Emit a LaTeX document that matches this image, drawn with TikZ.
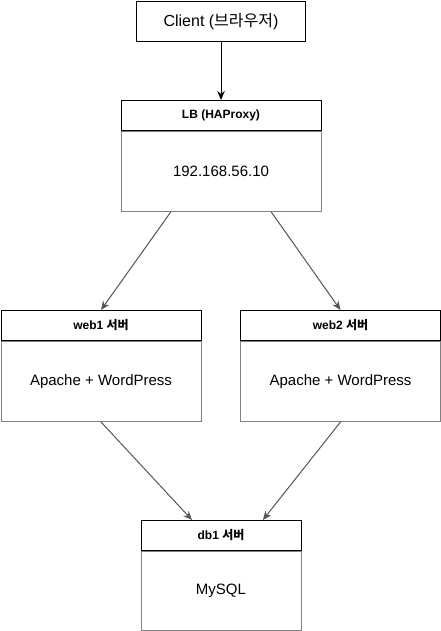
\documentclass[tikz,border=0pt]{standalone}
\usepackage{fontspec}
\setmainfont{Liberation Sans}
\newfontfamily\krfont{Noto Sans CJK KR}
\usetikzlibrary{arrows.meta, positioning, calc}
\definecolor{boxgray}{HTML}{808080}
\definecolor{linkgray}{HTML}{555555}

\tikzset{
  plainbox/.style={draw=black, line width=1pt, minimum width=169pt, minimum height=40pt, inner sep=0pt, anchor=north west, font=\fontsize{16}{16}\selectfont},
  hdrbox/.style={draw=black, line width=1pt, minimum width=200pt, minimum height=30pt, inner sep=0pt, anchor=north west, font=\fontsize{12}{12}\selectfont\bfseries},
  bodybox/.style={draw=boxgray, line width=1pt, minimum width=200pt, minimum height=80pt, inner sep=0pt, anchor=north, font=\fontsize{15}{15}\selectfont},
  link/.style={draw=linkgray, line width=1pt, -{Stealth[length=9pt, width=7.5pt]}}
}

\begin{document}
\begin{tikzpicture}[x=1pt, y=-1pt]
  \useasboundingbox (0,0) rectangle (441,631);

  % Client
  \node[plainbox] (client) at (136,1) {Client ({\krfont 브라우저})};

  % Load balancer
  \node[hdrbox] (lbhdr) at (120.5,100) {LB (HAProxy)};
  \node[bodybox] (lbbody) at (lbhdr.south) {192.168.56.10};

  % Web servers
  \node[hdrbox] (web1hdr) at (0.5,310) {web1 {\krfont 서버}};
  \node[bodybox] (web1body) at (web1hdr.south) {Apache + WordPress};
  \node[hdrbox] (web2hdr) at (240,310) {web2 {\krfont 서버}};
  \node[bodybox] (web2body) at (web2hdr.south) {Apache + WordPress};

  % Database
  \node[hdrbox, minimum width=160pt] (dbhdr) at (140.5,520) {db1 {\krfont 서버}};
  \node[bodybox, minimum width=160pt, minimum height=79pt] (dbbody) at (dbhdr.south) {MySQL};

  % Connectors
  \draw[link, draw=black] (client.south) -- (lbhdr.north);
  \draw[link] ($(lbbody.south west)!0.25!(lbbody.south east)$) -- (web1hdr.north);
  \draw[link] ($(lbbody.south west)!0.75!(lbbody.south east)$) -- (web2hdr.north);
  \draw[link] (web1body.south) -- ($(dbhdr.north west)!0.32!(dbhdr.north east)$);
  \draw[link] (web2body.south) -- ($(dbhdr.north west)!0.76!(dbhdr.north east)$);
\end{tikzpicture}
\end{document}
